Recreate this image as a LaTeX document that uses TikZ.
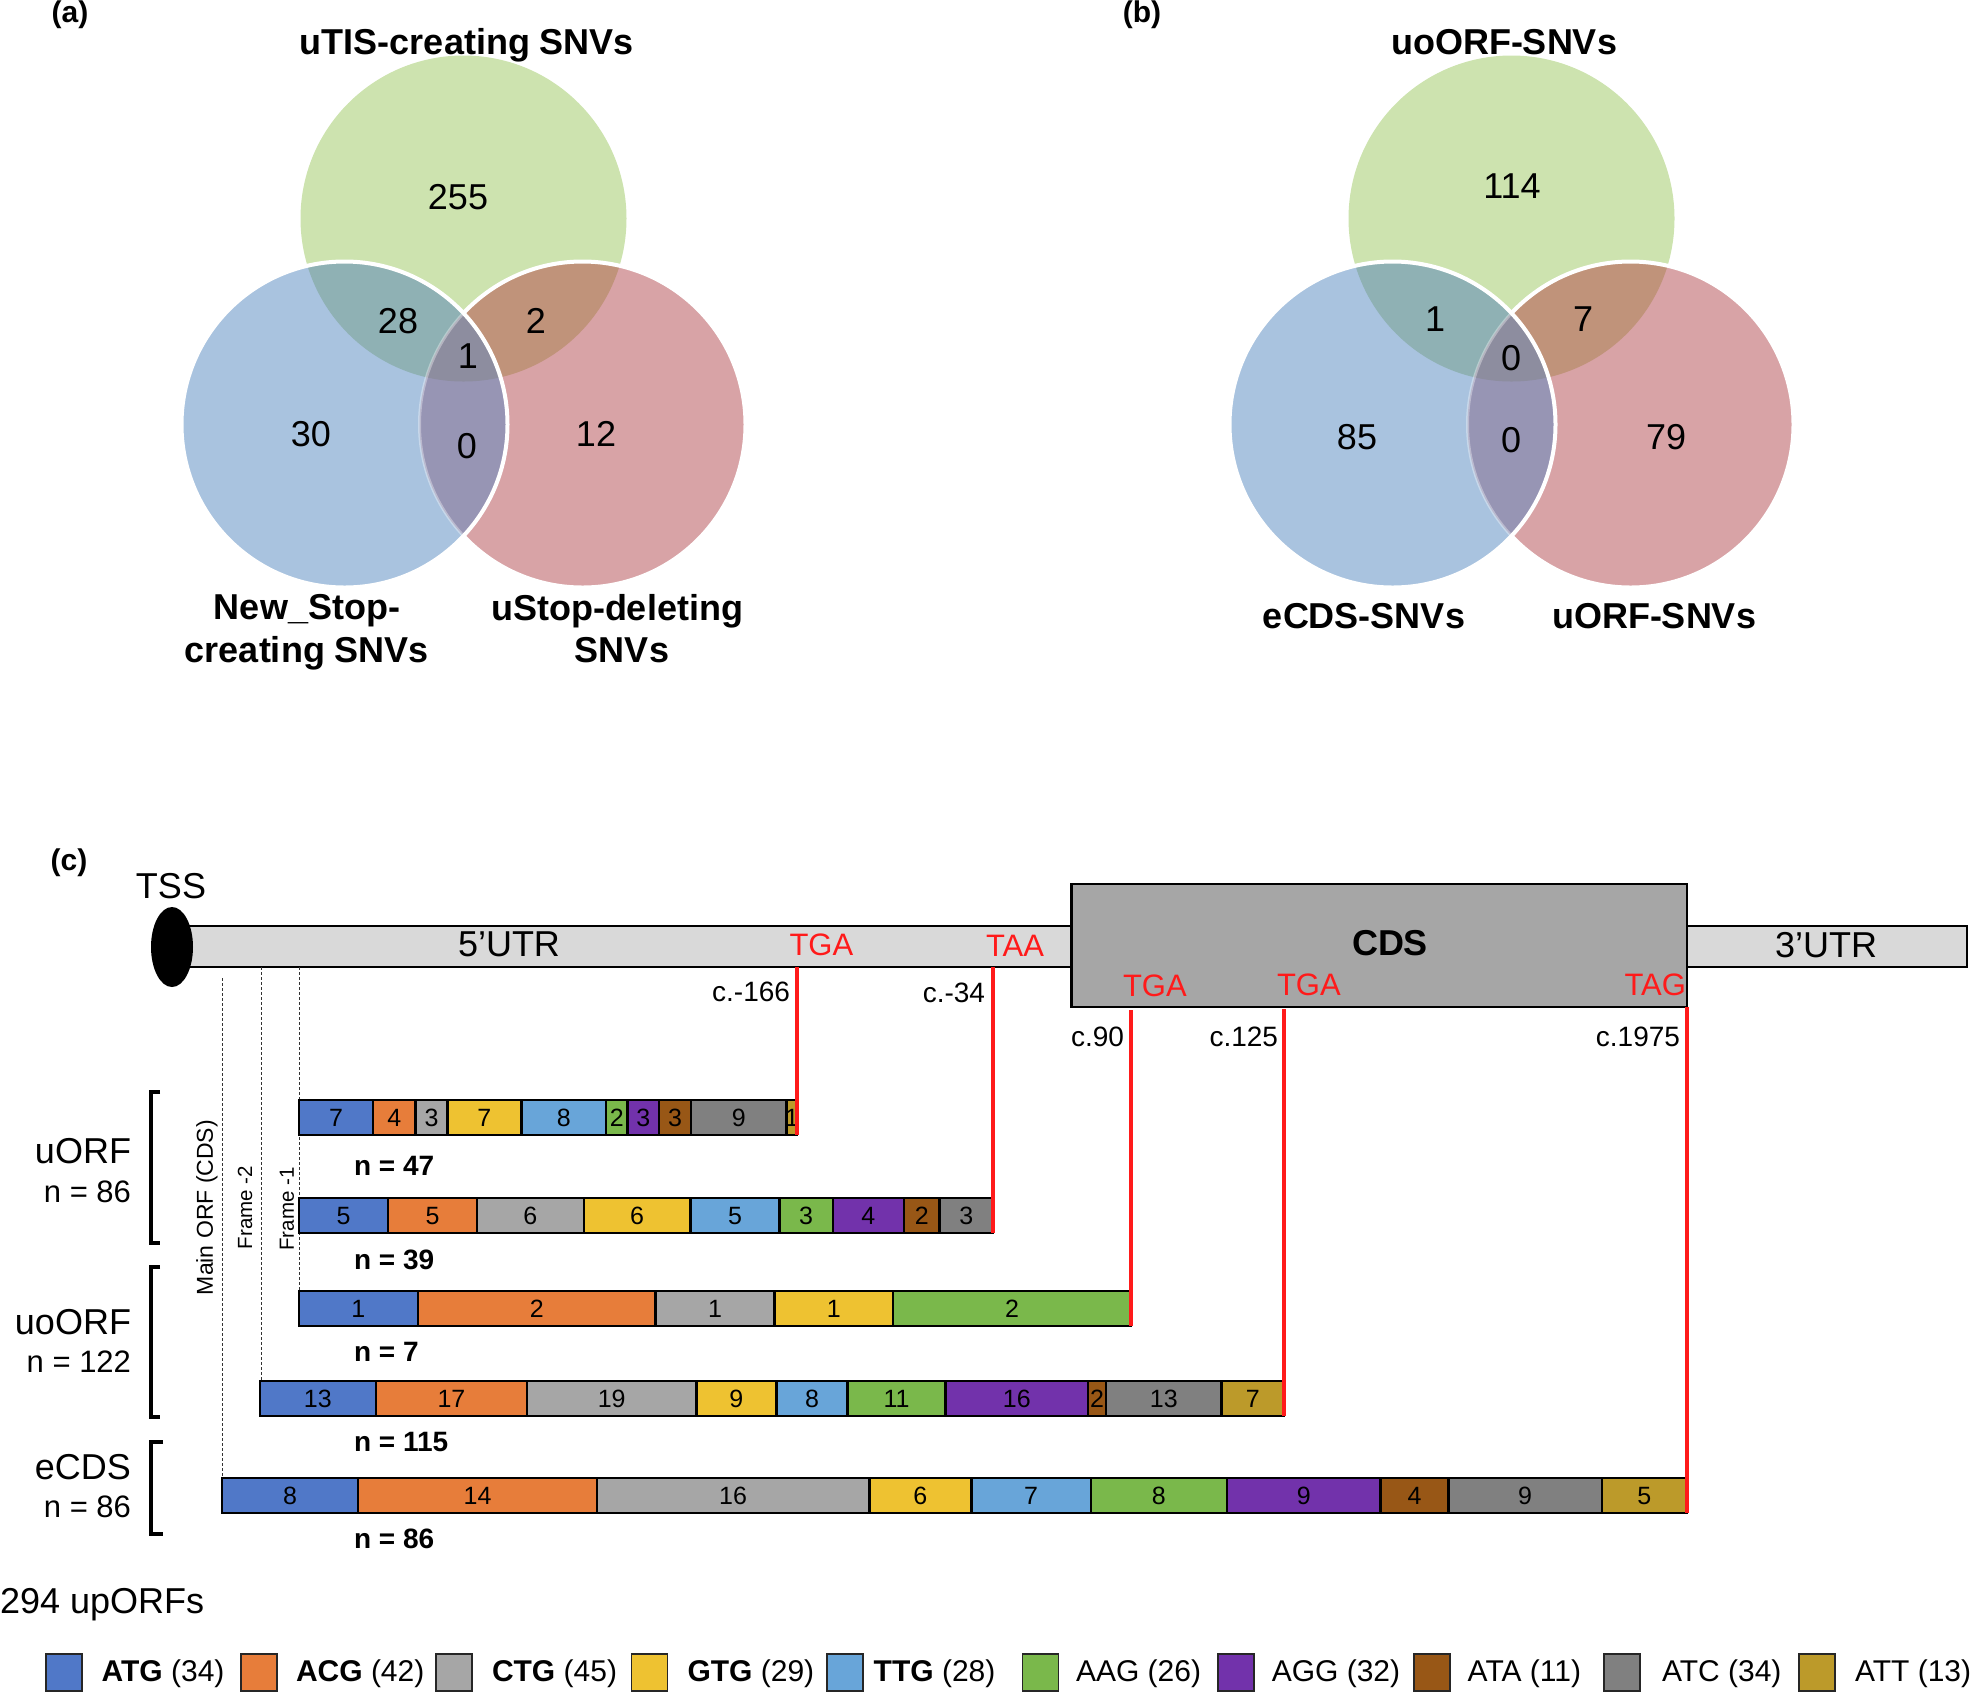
\documentclass[tikz,border=0pt]{standalone}
\usepackage{fontspec}
\setmainfont{Liberation Sans}
\definecolor{vG}{HTML}{CDE3AF}
\definecolor{vB}{HTML}{A9C3DF}
\definecolor{vR}{HTML}{D8A3A6}
\definecolor{vGB}{HTML}{8FB1B4}
\definecolor{vGR}{HTML}{C0937A}
\definecolor{vBR}{HTML}{9795B4}
\definecolor{vGBR}{HTML}{8D8D9F}
\definecolor{cATG}{HTML}{5078C8}
\definecolor{cACG}{HTML}{E77D3A}
\definecolor{cCTG}{HTML}{A6A6A6}
\definecolor{cGTG}{HTML}{EEC231}
\definecolor{cTTG}{HTML}{68A5D9}
\definecolor{cAAG}{HTML}{7AB84B}
\definecolor{cAGG}{HTML}{7232AB}
\definecolor{cATA}{HTML}{985716}
\definecolor{cATC}{HTML}{808080}
\definecolor{cATT}{HTML}{BC9A2A}
\definecolor{utrgray}{HTML}{D9D9D9}
\definecolor{cdsgray}{HTML}{A6A6A6}
\definecolor{stopred}{HTML}{FF1A1A}

% Venn diagram: #1 prefix, #2 x of the top circle
\newcommand\venndraw[2]{%
  \coordinate (#1G) at (#2,218.5);
  \coordinate (#1B) at (#2-119,424.5);
  \coordinate (#1R) at (#2+119,424.5);
  \fill[vG] (#1G) circle[radius=81.5pt];
  \fill[vR] (#1R) circle[radius=81.5pt];
  \fill[vB] (#1B) circle[radius=81.5pt];
  \begin{scope}
    \clip (#1G) circle[radius=81.5pt];
    \fill[vGB] (#1B) circle[radius=81.5pt];
    \fill[vGR] (#1R) circle[radius=81.5pt];
  \end{scope}
  \begin{scope}
    \clip (#1B) circle[radius=81.5pt];
    \fill[vBR] (#1R) circle[radius=81.5pt];
  \end{scope}
  \begin{scope}
    \clip (#1G) circle[radius=81.5pt];
    \clip (#1B) circle[radius=81.5pt];
    \fill[vGBR] (#1R) circle[radius=81.5pt];
  \end{scope}
  \begin{scope}[even odd rule]
    \clip (0,0) rectangle (1975,700) (#1B) circle[radius=81.5pt];
    \draw[white,line width=2pt] (#1R) circle[radius=81.5pt];
  \end{scope}
  \begin{scope}
    \clip (#1B) circle[radius=81.5pt];
    \draw[white,opacity=0.35,line width=1.5pt] (#1R) circle[radius=81.5pt];
  \end{scope}
  \draw[white,line width=2pt] (#1B) circle[radius=81.5pt];
}

% ORF bar: #1 id, #2 x start, #3 x end, #4 y top, #5 total, #6 list colour/count
\newcommand\orfbar[6]{%
  \pgfmathsetmacro\barunit{(#3-#2)/#5}%
  \xdef\curx{#2}%
  \foreach \segc/\segn [count=\i] in {#6}{%
    \pgfmathsetmacro\nx{\curx+\segn*\barunit}%
    \draw[segbox, fill=\segc] (\curx,#4) rectangle (\nx,#4+35);
    \node[segnum] (#1s\i) at ({(\curx+\nx)/2},#4+17.5) {\segn};
    \xdef\curx{\nx}%
  }%
  \coordinate (#1end) at (#3,#4+35);
  \coordinate (#1top) at (#2,#4);
}

\begin{document}
\begin{tikzpicture}[x=0.5pt,y=-0.5pt,
  every node/.style={inner sep=0pt,outer sep=0pt},
  vnum/.style={font=\fontsize{18}{21}\selectfont},
  vlab/.style={font=\bfseries\fontsize{18}{21}\selectfont},
  plab/.style={font=\bfseries\fontsize{15}{18}\selectfont},
  gtxt/.style={font=\fontsize{18}{21}\selectfont},
  gbold/.style={font=\bfseries\fontsize{18}{21}\selectfont},
  rtxt/.style={font=\fontsize{15.5}{18}\selectfont,text=stopred},
  ptxt/.style={font=\fontsize{14}{17}\selectfont},
  ntxt/.style={font=\bfseries\fontsize{14}{17}\selectfont},
  segnum/.style={font=\fontsize{12.5}{14}\selectfont},
  side/.style={font=\fontsize{18}{21}\selectfont},
  sidesmall/.style={font=\fontsize{15.5}{18}\selectfont},
  rotmain/.style={font=\fontsize{11.5}{13}\selectfont,rotate=90},
  rotframe/.style={font=\fontsize{10.25}{12}\selectfont,rotate=90},
  legtxt/.style={font=\fontsize{15}{18}\selectfont},
  segbox/.style={draw=black,line width=1.2pt},
  legbox/.style={draw=black!85,line width=0.9pt},
  utrbar/.style={draw=black,fill=utrgray,line width=1.4pt},
  cdsbox/.style={draw=black,fill=cdsgray,line width=1.4pt},
  redl/.style={draw=stopred,line width=1.8pt},
  dashl/.style={draw=black!80,line width=0.45pt,dash pattern=on 1.5pt off 1pt},
  brk/.style={draw=black,line width=2pt,line join=miter,line cap=butt},
]
\useasboundingbox (0,0) rectangle (1975,1694);

% ---------------- (a) ----------------
\node[plab] (pa) at (70,15) {(a)};
\venndraw{a}{463.5}
\node[vlab,anchor=base] (aT) at (467,54) {uTIS-creating SNVs};
\node[vlab,anchor=base] (aL1) at (307,619) {New\_Stop-};
\node[vlab,anchor=base] (aL2) at (307,662) {creating SNVs};
\node[vlab,anchor=base] (aR1) at (617,620) {uStop-deleting};
\node[vlab,anchor=base] (aR2) at (622,662) {SNVs};
\node[vnum] (a1) at (458,197) {255};
\node[vnum] (a2) at (398,321) {28};
\node[vnum] (a3) at (536,321) {2};
\node[vnum] (a4) at (468,356) {1};
\node[vnum] (a5) at (311,434) {30};
\node[vnum] (a6) at (467,446) {0};
\node[vnum] (a7) at (596,434) {12};

% ---------------- (b) ----------------
\node[plab] (pb) at (1142,15) {(b)};
\venndraw{b}{1511.5}
\node[vlab,anchor=base] (bT) at (1504,54) {uoORF-SNVs};
\node[vlab,anchor=base] (bL) at (1364,628) {eCDS-SNVs};
\node[vlab,anchor=base] (bR) at (1654,628) {uORF-SNVs};
\node[vnum] (b1) at (1512,186.5) {114};
\node[vnum] (b2) at (1435,319) {1};
\node[vnum] (b3) at (1583,319) {7};
\node[vnum] (b4) at (1511,358) {0};
\node[vnum] (b5) at (1357,437) {85};
\node[vnum] (b6) at (1511,440) {0};
\node[vnum] (b7) at (1666,437) {79};

% ---------------- (c) ----------------
\node[plab] (pc) at (69,863) {(c)};
\node[utrbar,minimum width=893.5pt,minimum height=20.5pt,anchor=north west] (utr) at (180,926) {};
\node[cdsbox,minimum width=307.75pt,minimum height=61.5pt,anchor=north west] (cds) at (1071.5,884) {};
\fill[black] (172,947) ellipse[x radius=10.5pt,y radius=20pt];
\coordinate (tss) at (172,947);
\node[gtxt] (tsslab) at (171,886) {TSS};
\node[gtxt] (utr5) at (509,944) {5’UTR};
\node[gtxt] (utr3) at (1826,945) {3’UTR};
\node[gbold] (cdslab) at (1390,943) {CDS};

\node[rtxt,anchor=west] (r1) at (789.5,945) {TGA};
\node[rtxt,anchor=west] (r2) at (986,946) {TAA};
\node[rtxt,anchor=west] (r3) at (1123,986) {TGA};
\node[rtxt,anchor=west] (r4) at (1277,985) {TGA};
\node[rtxt,anchor=east] (r5) at (1686,985) {TAG};

\node[ptxt,anchor=east] (p1) at (790,992) {c.-166};
\node[ptxt,anchor=east] (p2) at (985,993) {c.-34};
\node[ptxt,anchor=east] (p3) at (1124,1037) {c.90};
\node[ptxt,anchor=east] (p4) at (1278,1037) {c.125};
\node[ptxt,anchor=east] (p5) at (1680,1037) {c.1975};

% frame guide lines
\coordinate (mainstart) at (222.7,978);
\coordinate (f2x) at (261,967);
\coordinate (f1x) at (299,967);
\coordinate (b5t) at (222.7,1478);
\coordinate (b4t) at (261,1381);
\coordinate (b3t) at (299,1291);
\draw[dashl] (mainstart) -- (b5t);
\draw[dashl] (f2x) -- (b4t);
\draw[dashl] (f1x) -- (b3t);
\node[rotmain] (mainorf) at (207,1207.5) {Main ORF (CDS)};
\node[rotframe] (fr2) at (245,1207.5) {Frame -2};
\node[rotframe] (fr1) at (287,1209) {Frame -1};

% bars
\orfbar{barA}{299}{797}{1100}{47}{cATG/7,cACG/4,cCTG/3,cGTG/7,cTTG/8,cAAG/2,cAGG/3,cATA/3,cATC/9,cATT/1}
\orfbar{barB}{299}{993}{1198}{39}{cATG/5,cACG/5,cCTG/6,cGTG/6,cTTG/5,cAAG/3,cAGG/4,cATA/2,cATC/3}
\orfbar{barC}{299}{1131}{1291}{7}{cATG/1,cACG/2,cCTG/1,cGTG/1,cAAG/2}
\orfbar{barD}{260}{1284}{1381}{115}{cATG/13,cACG/17,cCTG/19,cGTG/9,cTTG/8,cAAG/11,cAGG/16,cATA/2,cATC/13,cATT/7}
\orfbar{barE}{222}{1687}{1478}{86}{cATG/8,cACG/14,cCTG/16,cGTG/6,cTTG/7,cAAG/8,cAGG/9,cATA/4,cATC/9,cATT/5}

% stop connectors
\draw[redl] (utr.south -| barAend) -- (barAend);
\draw[redl] (utr.south -| barBend) -- (barBend);
\draw[redl] ([yshift=-1.5pt]cds.south -| barCend) -- (barCend);
\draw[redl] ([yshift=-1pt]cds.south -| barDend) -- (barDend);
\draw[redl] (cds.south -| barEend) -- (barEend);

% n labels
\node[ntxt,anchor=west] (n1) at (354,1166) {n = 47};
\node[ntxt,anchor=west] (n2) at (354,1260) {n = 39};
\node[ntxt,anchor=west] (n3) at (354,1352) {n = 7};
\node[ntxt,anchor=west] (n4) at (354,1442) {n = 115};
\node[ntxt,anchor=west] (n5) at (354,1539) {n = 86};

% brackets and side labels
\draw[brk] (160,1092) -- (151,1092) -- (151,1243) -- (160,1243);
\draw[brk] (160,1267) -- (151,1267) -- (151,1417) -- (160,1417);
\draw[brk] (163,1442) -- (151,1442) -- (151,1534) -- (163,1534);
\node[side,anchor=east] (s1) at (131,1151) {uORF};
\node[sidesmall,anchor=east] (s1n) at (131,1192) {n = 86};
\node[side,anchor=east] (s2) at (131,1322) {uoORF};
\node[sidesmall,anchor=east] (s2n) at (131,1362) {n = 122};
\node[side,anchor=east] (s3) at (131,1467) {eCDS};
\node[sidesmall,anchor=east] (s3n) at (131,1507) {n = 86};

% legend
\node[gtxt,anchor=base west] (total) at (0,1613) {294 upORFs};
\foreach \lc/\sx/\tx/\lt [count=\i] in {cATG/45.7/101.7/{\textbf{ATG} (34)},cACG/240.7/296/{\textbf{ACG} (42)},cCTG/436/492/{\textbf{CTG} (45)},cGTG/631.5/687.5/{\textbf{GTG} (29)},cTTG/827/873.7/{\textbf{TTG} (28)},cAAG/1022.5/1076/{AAG (26)},cAGG/1218/1271.8/{AGG (32)},cATA/1413.8/1467.7/{ATA (11)},cATC/1604/1662/{ATC (34)},cATT/1799/1855/{ATT (13)}}{
  \node[legbox,fill=\lc,minimum width=18pt,minimum height=18.5pt,anchor=north west] (lb\i) at (\sx,1654) {};
  \node[legtxt,anchor=west] (lt\i) at (\tx,1674) {\lt};
}
\end{tikzpicture}
\end{document}
